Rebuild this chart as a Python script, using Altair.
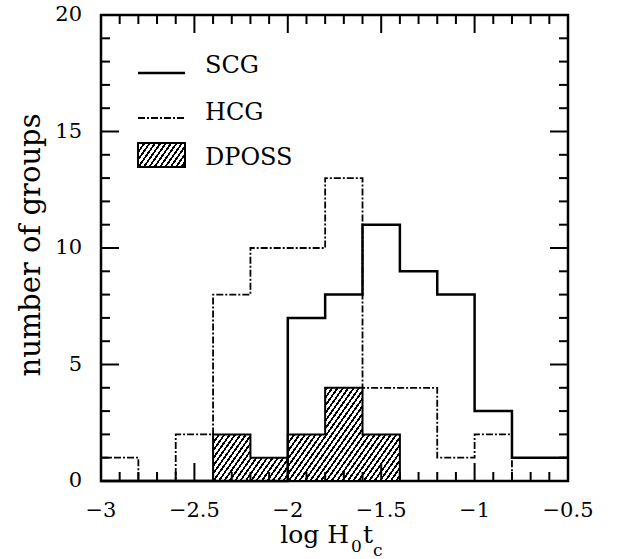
import math
import pandas as pd
import altair as alt

# ---------------- data ----------------
bin_left = [-3.0, -2.8, -2.6, -2.4, -2.2, -2.0, -1.8, -1.6, -1.4, -1.2, -1.0, -0.8, -0.6]
x_end = -0.5
hcg_counts = [1, 0, 2, 8, 10, 10, 13, 4, 4, 1, 2, 0, 0]
scg_counts = [0, 0, 0, 0, 0, 7, 8, 11, 9, 8, 3, 1, 1]
dposs_counts = [0, 0, 0, 2, 1, 2, 4, 2, 0, 0, 0, 0, 0]

x_major = [-3.0, -2.5, -2.0, -1.5, -1.0, -0.5]
x_minor = [-2.9, -2.8, -2.7, -2.6, -2.4, -2.3, -2.2, -2.1, -1.9, -1.8, -1.7, -1.6,
           -1.4, -1.3, -1.2, -1.1, -0.9, -0.8, -0.7, -0.6]
y_major = [0, 5, 10, 15, 20]
y_minor = [1, 2, 3, 4, 6, 7, 8, 9, 11, 12, 13, 14, 16, 17, 18, 19]

legend_labels = ["SCG", "HCG", "DPOSS"]
x_title_parts = ["log H", "0", "t", "c"]
y_title = "number of groups"

# ---------------- layout ----------------
PW, PH = 467, 466
PAD = {"left": 101, "top": 15, "right": 59, "bottom": 78}
X_DOM = [-3.0, -0.5]
Y_DOM = [0, 20]
FONT = "DejaVu Serif"
MAJ, MIN = 18, 9  # tick lengths in pixels
PX_X = (X_DOM[1] - X_DOM[0]) / PW  # data units per pixel
PX_Y = (Y_DOM[1] - Y_DOM[0]) / PH


def steps(counts):
    xs = list(bin_left) + [x_end]
    ys = list(counts) + [counts[-1]]
    return pd.DataFrame({"x": xs, "y": ys})


def dposs_steps(counts):
    nz = [i for i, c in enumerate(counts) if c > 0]
    a, b = nz[0], nz[-1]
    xs = [bin_left[i] for i in range(a, b + 1)] + [bin_left[b + 1]]
    ys = [counts[i] for i in range(a, b + 1)] + [counts[b]]
    return pd.DataFrame({"x": xs, "y": ys})


def hatch(W, H, theta=55.0, period=4.4, lw=1.8):
    a = math.sin(math.radians(theta))
    b = math.cos(math.radians(theta))
    L = a * W + b * H
    s = L / (a * a * W * W + b * b * H * H)
    stops = []
    k = 0
    while k * period / L < 1:
        o0 = k * period / L
        o1 = min((k * period + lw) / L, 1)
        o2 = min((k + 1) * period / L, 1)
        stops += [{"offset": o0, "color": "black"}, {"offset": o1, "color": "black"},
                  {"offset": o1, "color": "white"}, {"offset": o2, "color": "white"}]
        k += 1
    return {"gradient": "linear", "x1": 0, "y1": 0,
            "x2": a * W * s, "y2": b * H * s, "stops": stops}


xs = alt.Scale(domain=X_DOM, nice=False, zero=False)
ys = alt.Scale(domain=Y_DOM, nice=False, zero=False)

dp = dposs_steps(dposs_counts)
dW = (dp["x"].max() - dp["x"].min()) / (X_DOM[1] - X_DOM[0]) * PW
dH = dp["y"].max() / (Y_DOM[1] - Y_DOM[0]) * PH

X = lambda f: alt.X(f, scale=xs, axis=None)
Y = lambda f: alt.Y(f, scale=ys, axis=None)

dposs = alt.Chart(dp).mark_area(
    interpolate="step-after", fill=hatch(dW, dH), stroke="black", strokeWidth=2
).encode(x=X("x:Q"), y=Y("y:Q"))

hcg = alt.Chart(steps(hcg_counts)).mark_line(
    interpolate="step-after", color="black", strokeWidth=1.8, strokeDash=[7, 2, 2, 2]
).encode(x=X("x:Q"), y=Y("y:Q"))

scg = alt.Chart(steps(scg_counts)).mark_line(
    interpolate="step-after", color="black", strokeWidth=2.5
).encode(x=X("x:Q"), y=Y("y:Q"))


# inward tick marks on all four sides, as short two-point segments in data space
def tick_frame():
    rows = []
    k = 0
    for vals, size in ((x_major, MAJ), (x_minor, MIN)):
        for t in vals:
            for y0, d in ((Y_DOM[0], 1), (Y_DOM[1], -1)):
                rows.append({"tid": k, "tx": t, "ty": y0,
                             "tx2": t, "ty2": y0 + d * size * PX_Y})
                k += 1
    for vals, size in ((y_major, MAJ), (y_minor, MIN)):
        for t in vals:
            for x0, d in ((X_DOM[0], 1), (X_DOM[1], -1)):
                rows.append({"tid": k, "tx": x0, "ty": t,
                             "tx2": x0 + d * size * PX_X, "ty2": t})
                k += 1
    return pd.DataFrame(rows)


ticks = alt.Chart(tick_frame()).mark_rule(color="black", strokeWidth=2).encode(
    x=X("tx:Q"), y=Y("ty:Q"), x2="tx2:Q", y2="ty2:Q")

# tick labels, positioned by the scales
xlab = alt.Chart(pd.DataFrame({"lx": x_major})).mark_text(
    font=FONT, fontSize=21, color="black", align="center", baseline="top"
).encode(x=X("lx:Q"), y=alt.value(PH + 19), text=alt.Text("lx:Q", format="~g"))

ylab = alt.Chart(pd.DataFrame({"ly": y_major})).mark_text(
    font=FONT, fontSize=21, color="black", align="right", baseline="middle"
).encode(y=Y("ly:Q"), x=alt.value(-19), text=alt.Text("ly:Q", format="~g"))

one = pd.DataFrame({"k": [0]})

leg_scg = alt.Chart(one).mark_rule(color="black", strokeWidth=2.5).encode(
    x=alt.value(37), x2=alt.value(84), y=alt.value(58))
leg_hcg = alt.Chart(one).mark_rule(color="black", strokeWidth=1.8, strokeDash=[7, 2, 2, 2]).encode(
    x=alt.value(37), x2=alt.value(84), y=alt.value(103))
leg_box = alt.Chart(one).mark_rect(fill=hatch(47, 24), stroke="black", strokeWidth=2).encode(
    x=alt.value(37), x2=alt.value(84), y=alt.value(128), y2=alt.value(152))


def txt(t, x, y, size, align="left", baseline="middle", angle=0):
    return alt.Chart(one).mark_text(
        text=t, font=FONT, fontSize=size, color="black", align=align,
        baseline=baseline, angle=angle
    ).encode(x=alt.value(x), y=alt.value(y))


leg_texts = [txt(legend_labels[0], 104, 51, 24),
             txt(legend_labels[1], 104, 98, 24),
             txt(legend_labels[2], 104, 143, 24)]

x_title = [txt(x_title_parts[0], 248, 528, 25, align="right", baseline="alphabetic"),
           txt(x_title_parts[1], 250, 537, 17, baseline="alphabetic"),
           txt(x_title_parts[2], 262, 528, 25, baseline="alphabetic"),
           txt(x_title_parts[3], 272, 541, 17, baseline="alphabetic")]

y_ttl = txt(y_title, -61, 230, 29, align="center", baseline="alphabetic", angle=270)

chart = alt.layer(
    dposs, hcg, scg, xlab, ylab, leg_scg, leg_hcg, leg_box, *leg_texts, *x_title, y_ttl, ticks
).properties(
    width=PW, height=PH, padding=PAD, autosize=alt.AutoSizeParams(type="none"),
    background="white"
).configure_view(stroke="black", strokeWidth=2.5)

chart.save("out.html", embed_options={"renderer": "svg", "actions": False})
